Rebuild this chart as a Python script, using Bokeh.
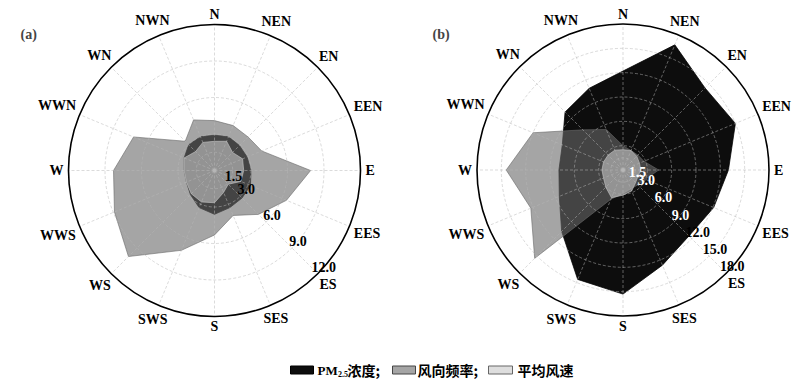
import numpy as np
from bokeh.plotting import figure
from bokeh.layouts import column, row
from bokeh.models import Range1d, Label
from bokeh.core.properties import value
from bokeh.embed import file_html
from bokeh.resources import INLINE

# ---------------- data ----------------
directions = ["N", "NEN", "EN", "EEN", "E", "EES", "ES", "SES",
              "S", "SWS", "WS", "WWS", "W", "WWN", "WN", "NWN"]

# panel (a)
pm_a    = [2.9, 3.0, 2.9, 2.9, 3.0, 3.2, 3.2, 3.3, 3.6, 3.3, 2.8, 2.5, 2.5, 2.7, 3.0, 3.0]
freq_a  = [4.1, 4.0, 3.9, 4.2, 7.9, 6.4, 5.1, 4.0, 5.3, 7.1, 10.0, 8.9, 8.3, 7.2, 3.4, 4.5]
speed_a = [2.4, 2.6, 2.1, 2.5, 2.4, 2.35, 1.6, 1.95, 2.65, 2.8, 2.7, 2.5, 2.5, 2.7, 2.2, 2.5]
ticks_a = [1.5, 3.0, 6.0, 9.0, 12.0]

# panel (b)
pm_b    = [12.2, 16.7, 14.3, 15.0, 13.0, 12.1, 11.5, 12.7, 15.3, 14.6, 10.7, 8.5, 7.9, 8.1, 10.1, 10.9]
freq_b  = [3.0, 2.6, 2.6, 2.8, 4.4, 3.0, 2.6, 2.5, 2.9, 3.9, 15.4, 12.3, 14.4, 12.0, 7.0, 5.4]
speed_b = [2.5, 2.6, 2.4, 2.2, 2.2, 2.0, 2.2, 2.8, 3.1, 3.7, 3.0, 2.6, 2.6, 2.6, 2.6, 2.65]
ticks_b = [1.5, 3.0, 6.0, 9.0, 12.0, 15.0, 18.0]
tick_colors_b = ["white", "white", "white", "white", "black", "black", "black"]

legend_labels = ["浓度;", "风向频率;", "平均风速"]

# ---------------- style ----------------
SERIF = "Liberation Serif"
CJK = "Noto Sans CJK SC"
PM_COLOR, PM_ALPHA = "black", 0.95
FREQ_COLOR, FREQ_ALPHA = "#696969", 0.6
SPEED_COLOR, SPEED_ALPHA = "#c8c8c8", 0.6
GRID_COLOR, GRID_ALPHA = "#b8b8b8", 0.5

R_PX = 146.0          # outer circle radius in pixels
H = 346

EM = {"N": 0.722, "E": 0.667, "S": 0.556, "W": 1.0}

theta = np.deg2rad(np.arange(16) * 22.5)   # compass angles, clockwise from north


def polar_panel(width, cx_px, cy_px, rmax, pm, freq, speed, ticks, tick_colors, tag):
    ppu = R_PX / rmax
    x0 = -cx_px / ppu
    x1 = (width - cx_px) / ppu
    y1 = cy_px / ppu
    y0 = -(H - cy_px) / ppu
    p = figure(width=width, height=H, x_range=Range1d(x0, x1), y_range=Range1d(y0, y1),
               output_backend="svg", toolbar_location=None, min_border=0,
               x_axis_location=None, y_axis_location=None)
    p.grid.visible = False
    p.outline_line_color = None
    p.background_fill_color = "white"

    def poly(vals, color, alpha, lw):
        v = np.asarray(vals)
        xs = v * np.sin(theta)
        ys = v * np.cos(theta)
        p.patch(list(xs), list(ys), fill_color=color, fill_alpha=alpha,
                line_color=color, line_alpha=alpha, line_width=lw)

    poly(pm, PM_COLOR, PM_ALPHA, 0.8)
    poly(freq, FREQ_COLOR, FREQ_ALPHA, 1.0)
    poly(speed, SPEED_COLOR, SPEED_ALPHA, 1.0)

    # grid rings and spokes
    for t in ticks[:-1]:
        p.circle(x=0, y=0, radius=t, fill_color=None, line_color=GRID_COLOR,
                 line_alpha=GRID_ALPHA, line_width=1, line_dash="3 2")
    p.segment(x0=[0] * 16, y0=[0] * 16,
              x1=list(rmax * np.sin(theta)), y1=list(rmax * np.cos(theta)),
              line_color=GRID_COLOR, line_alpha=GRID_ALPHA, line_width=1, line_dash="3 2")
    p.scatter(x=[0], y=[0], size=3, color=GRID_COLOR, alpha=0.8)

    # outer circle
    p.circle(x=0, y=0, radius=rmax, fill_color=None, line_color="black", line_width=1.6)

    # direction labels
    lx, ly = [], []
    for name, th in zip(directions, theta):
        w = sum(EM[c] for c in name) * 14
        r_px = 151 + abs(np.sin(th)) * w / 2 + abs(np.cos(th)) * 5
        lx.append(r_px / ppu * np.sin(th))
        ly.append(r_px / ppu * np.cos(th))
    p.text(x=lx, y=ly, text=directions, text_font=value(SERIF), text_font_style="bold",
           text_font_size="14px", text_align="center", text_baseline="middle", text_color="black")

    # radial tick labels along ES direction
    ang = np.deg2rad(135)
    tx = [t * np.sin(ang) for t in ticks]
    ty = [t * np.cos(ang) for t in ticks]
    p.text(x=tx, y=ty, text=["%.1f" % t for t in ticks], text_color=tick_colors,
           text_font=value(SERIF), text_font_style="bold", text_font_size="14px",
           text_align="center", text_baseline="middle", x_offset=6, y_offset=-7)

    p.add_layout(Label(x=20, y=H - 34, x_units="screen", y_units="screen", text=tag,
                       text_font=SERIF, text_font_style="bold", text_font_size="14px",
                       text_baseline="middle", text_align="left"))
    return p


pa = polar_panel(412, 214.0, 170.0, 12.0, pm_a, freq_a, speed_a, ticks_a,
                 ["black"] * len(ticks_a), "(a)")
pb = polar_panel(393, 210.5, 169.5, 18.0, pm_b, freq_b, speed_b, ticks_b,
                 tick_colors_b, "(b)")

# ---------------- legend ----------------
LW, LH = 805, 35
pl = figure(width=LW, height=LH, x_range=Range1d(0, LW), y_range=Range1d(0, LH),
            output_backend="svg", toolbar_location=None, min_border=0,
            x_axis_location=None, y_axis_location=None)
pl.grid.visible = False
pl.outline_line_color = None

yc = 11.5
pl.quad(left=[290], right=[313], bottom=[yc - 4], top=[yc + 4],
        fill_color=PM_COLOR, fill_alpha=PM_ALPHA, line_color="black")
pl.quad(left=[392], right=[415], bottom=[yc - 4], top=[yc + 4],
        fill_color=FREQ_COLOR, fill_alpha=FREQ_ALPHA, line_color="#444444")
pl.quad(left=[488], right=[512], bottom=[yc - 4], top=[yc + 4],
        fill_color=SPEED_COLOR, fill_alpha=SPEED_ALPHA, line_color="#666666")

pl.text(x=[317], y=[yc], text=["PM"], text_font=value(SERIF), text_font_style="bold",
        text_font_size="13px", text_align="left", text_baseline="middle")
pl.text(x=[337.5], y=[yc - 4], text=["2.5"], text_font=value(SERIF), text_font_style="bold",
        text_font_size="8px", text_align="left", text_baseline="middle")
pl.text(x=[347, 417, 517], y=[yc] * 3, text=legend_labels, text_font=value(CJK),
        text_font_style="bold", text_font_size="14px", text_align="left", text_baseline="middle")

layout = column(row(pa, pb), pl)
open("out.html", "w").write(file_html(layout, INLINE))
